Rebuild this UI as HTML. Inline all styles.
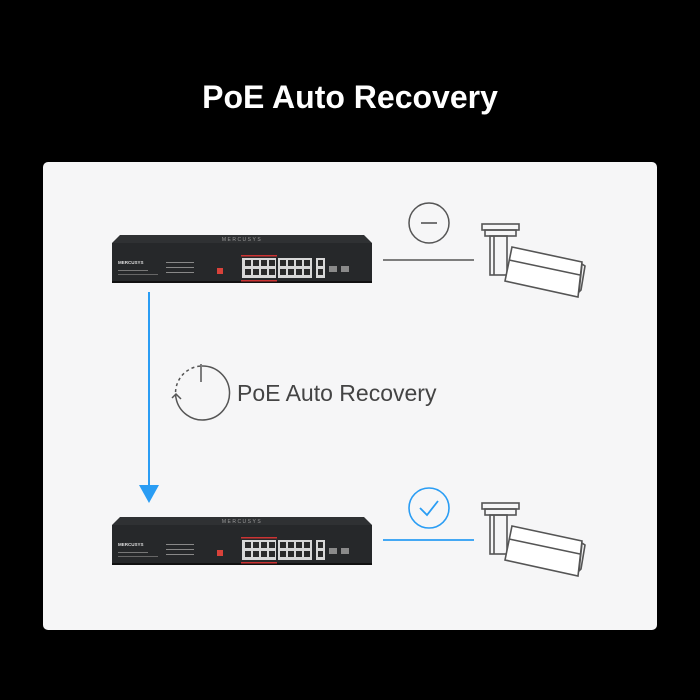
<!DOCTYPE html>
<html><head><style>
html,body{margin:0;padding:0;background:#000;width:700px;height:700px;overflow:hidden}
</style></head><body>
<svg width="700" height="700" viewBox="0 0 700 700" xmlns="http://www.w3.org/2000/svg">
<rect width="700" height="700" fill="#000"/>
<text x="350" y="108" text-anchor="middle" font-family="Liberation Sans, sans-serif" font-size="32" font-weight="bold" fill="#fff">PoE Auto Recovery</text>
<rect x="43" y="162" width="614" height="468" rx="5" fill="#f6f6f7"/>
<defs>
<g id="sw">
  <polygon points="120,235 364,235 372,243 112,243" fill="#2f3133"/>
  <rect x="112" y="243" width="260" height="39" fill="#26282a"/>
  <rect x="112" y="281" width="260" height="2" fill="#111"/>
  <text x="242" y="241" text-anchor="middle" font-family="Liberation Sans, sans-serif" font-size="5" fill="#9a9a9a" letter-spacing="1.5">MERCUSYS</text>
  <text x="118" y="264" font-family="Liberation Sans, sans-serif" font-size="4.5" font-weight="bold" fill="#ddd">MERCUSYS</text>
  <rect x="118" y="270" width="30" height="1" fill="#777"/>
  <rect x="118" y="274" width="40" height="1" fill="#666"/>
  <g fill="#888"><rect x="166" y="262" width="28" height="1"/><rect x="166" y="267" width="28" height="1"/><rect x="166" y="272" width="28" height="1"/></g>
  <rect x="217" y="268" width="6" height="6" fill="#d9423a"/>
  <rect x="241" y="255" width="36" height="1.5" fill="#c33"/>
  <rect x="241" y="280" width="36" height="1.5" fill="#c33"/>
  <g fill="#d8d8d8">
    <rect x="242" y="258" width="70" height="20"/>
  </g>
  <g fill="#2a2a2a">
    <rect x="245" y="260" width="6" height="6"/><rect x="253" y="260" width="6" height="6"/><rect x="261" y="260" width="6" height="6"/><rect x="269" y="260" width="6" height="6"/>
    <rect x="280" y="260" width="6" height="6"/><rect x="288" y="260" width="6" height="6"/><rect x="296" y="260" width="6" height="6"/><rect x="304" y="260" width="6" height="6"/>
    <rect x="245" y="269" width="6" height="6"/><rect x="253" y="269" width="6" height="6"/><rect x="261" y="269" width="6" height="6"/><rect x="269" y="269" width="6" height="6"/>
    <rect x="280" y="269" width="6" height="6"/><rect x="288" y="269" width="6" height="6"/><rect x="296" y="269" width="6" height="6"/><rect x="304" y="269" width="6" height="6"/>
  </g>
  <rect x="276" y="258" width="2" height="20" fill="#26282a"/>
  <rect x="316" y="258" width="9" height="20" fill="#d8d8d8"/>
  <rect x="318" y="260" width="5" height="6" fill="#2a2a2a"/><rect x="318" y="269" width="5" height="6" fill="#2a2a2a"/>
  <rect x="329" y="266" width="8" height="6" fill="#8a8a8a"/><rect x="341" y="266" width="8" height="6" fill="#8a8a8a"/>
</g>
<g id="cam" fill="none" stroke="#555" stroke-width="1.6">
  <rect x="482" y="224" width="37" height="6"/>
  <rect x="485" y="230" width="31" height="6"/>
  <rect x="490" y="236" width="17" height="39"/>
  <line x1="494" y1="236" x2="494" y2="275"/>
  <polygon points="512,247 582,262 578,297 505,281" fill="#fff"/>
  <line x1="509" y1="260" x2="580" y2="275"/>
  <polygon points="582,264 585,266 581,290 579,292" />
</g>
</defs>
<use href="#sw"/>
<use href="#sw" y="282"/>
<use href="#cam"/>
<use href="#cam" y="279"/>
<line x1="383" y1="260" x2="474" y2="260" stroke="#555" stroke-width="1.6"/>
<circle cx="429" cy="223" r="20" fill="none" stroke="#555" stroke-width="1.5"/>
<line x1="421" y1="223" x2="437" y2="223" stroke="#555" stroke-width="1.6"/>
<line x1="383" y1="540" x2="474" y2="540" stroke="#2a9df4" stroke-width="1.8"/>
<circle cx="429" cy="508" r="20" fill="none" stroke="#2a9df4" stroke-width="1.6"/>
<polyline points="420,508 427,515 438,501" fill="none" stroke="#2a9df4" stroke-width="1.8"/>
<line x1="149" y1="292" x2="149" y2="487" stroke="#2a9df4" stroke-width="2"/>
<polygon points="139,485 159,485 149,503" fill="#2a9df4"/>
<path d="M202,366 A27,27 0 1 1 176,398" fill="none" stroke="#555" stroke-width="1.5"/>
<path d="M176,398 A27,27 0 0 1 202,366" fill="none" stroke="#555" stroke-width="1.5" stroke-dasharray="3,3"/>
<line x1="201" y1="364" x2="201" y2="382" stroke="#555" stroke-width="1.5"/>
<polyline points="172,398 176,394 181,399" fill="none" stroke="#555" stroke-width="1.5"/>
<text x="237" y="401" font-family="Liberation Sans, sans-serif" font-size="23" fill="#444">PoE Auto Recovery</text>
</svg>
</body></html>
